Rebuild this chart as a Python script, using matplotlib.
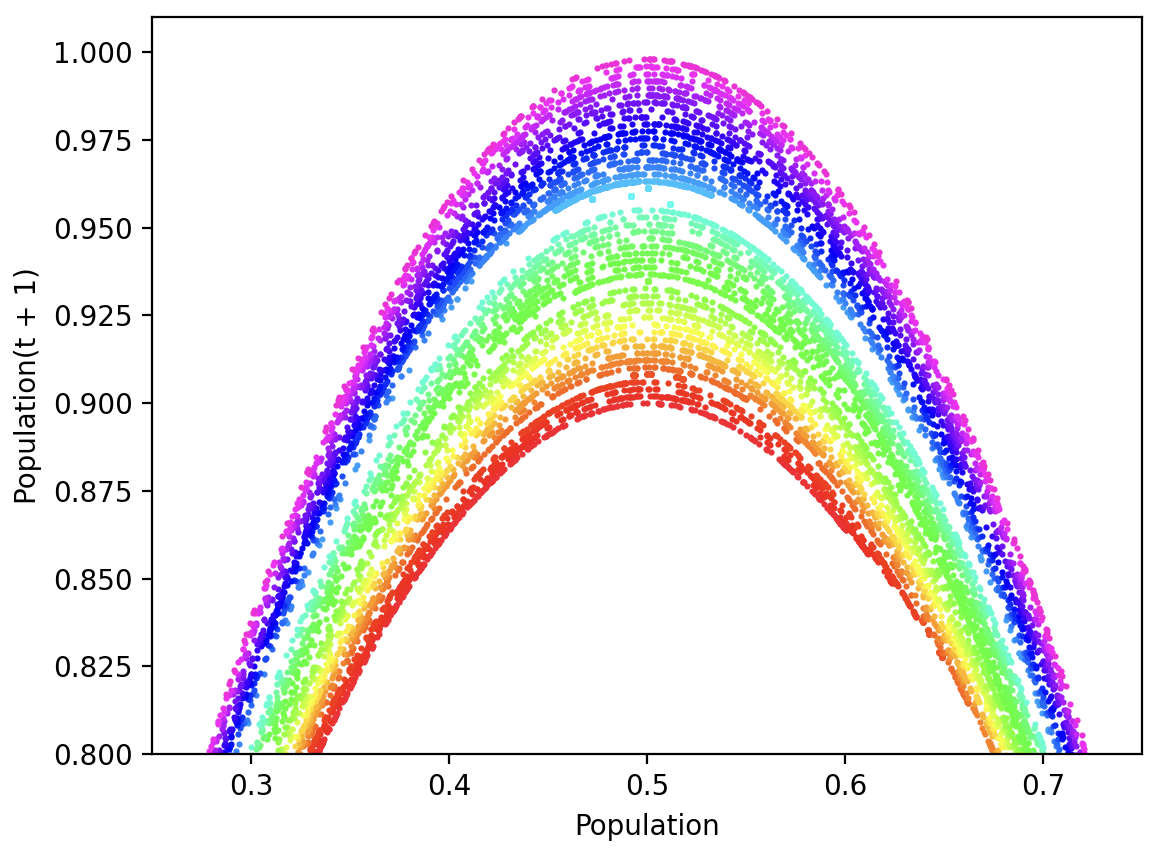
import numpy as np
import matplotlib
matplotlib.use("Agg")
import matplotlib.pyplot as plt

# logistic map simulation: growth rates 3.6 .. 4.0
rate_min = 3.6
rate_max = 4.0
num_rates = 50
num_gens = 700
num_discard = 100
initial_pop = 0.5

rates = np.linspace(rate_min, rate_max, num_rates)


def simulate(rate):
    pops = []
    pop = initial_pop
    for gen in range(num_gens + num_discard):
        if gen >= num_discard:
            pops.append(pop)
        pop = rate * pop * (1 - pop)
    return np.array(pops)


def to_p3(rgb):
    # reference screenshot shows sRGB colours written as Display P3 values
    lin = np.where(rgb <= 0.04045, rgb / 12.92, ((rgb + 0.055) / 1.055) ** 2.4)
    m = np.array([[0.8225, 0.1774, 0.0000],
                  [0.0332, 0.9669, 0.0000],
                  [0.0171, 0.0724, 0.9108]])
    lin = np.clip(lin @ m.T, 0, 1)
    return np.where(lin <= 0.0031308, lin * 12.92, 1.055 * lin ** (1 / 2.4) - 0.055)


fig = plt.figure(figsize=(5.84, 4.25), dpi=200)
ax = fig.add_axes([0.1301, 0.1129, 0.8476, 0.8671])

colors = to_p3(plt.get_cmap("gist_rainbow")(np.linspace(0, 1, num_rates))[:, :3])
for rate, color in zip(rates, colors):
    pops = simulate(rate)
    ax.scatter(pops[:-1], pops[1:], color=color, s=5, linewidths=0)

ax.set_xlim(0.25, 0.75)
ax.set_ylim(0.8, 1.01)
ax.set_xlabel("Population")
ax.set_ylabel("Population(t + 1)")

fig.savefig("out.png", dpi=200)
